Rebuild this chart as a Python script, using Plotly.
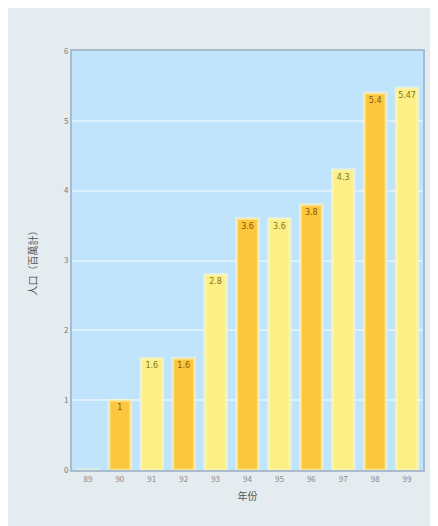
import plotly.graph_objects as go

years = ["89", "90", "91", "92", "93", "94", "95", "96", "97", "98", "99"]
values = [0, 1.0, 1.6, 1.6, 2.8, 3.6, 3.6, 3.8, 4.3, 5.4, 5.47]
labels = ["", "1", "1.6", "1.6", "2.8", "3.6", "3.6", "3.8", "4.3", "5.4", "5.47"]
y_ticks = [0, 1, 2, 3, 4, 5, 6]

orange = "#fcc63e"
yellow = "#fdef86"
colors = [orange if i % 2 == 1 else yellow for i in range(len(years))]
text_colors = ["#8a5800" if i % 2 == 1 else "#7d7818" for i in range(len(years))]

# page body has an 8px margin; figure placed inside it
W, H = 422, 518
ml, mr, mt, mb = 64, 5, 43, 56

fig = go.Figure()
fig.add_trace(go.Bar(
    x=years, y=values,
    marker=dict(color=colors, line=dict(color="rgba(255,250,200,0.55)", width=3)),
    text=labels, textposition="inside", insidetextanchor="end", textangle=0,
    constraintext="none",
    textfont=dict(size=8, color=text_colors, family="DejaVu Sans"),
    cliponaxis=False,
))

fig.update_layout(
    width=W, height=H,
    margin=dict(l=ml, r=mr, t=mt, b=mb),
    paper_bgcolor="#e4ecf0",
    plot_bgcolor="#bfe4fb",
    bargap=0.32,
    showlegend=False,
    font=dict(family="Noto Sans CJK TC", color="#777777", size=8),
    xaxis=dict(
        title=dict(text="年份", font=dict(size=10, color="#555555"), standoff=10),
        showgrid=False, ticks="", tickfont=dict(size=8, color="#888888"),
        showline=True, linecolor="#aabccc", linewidth=2, mirror=True,
    ),
    yaxis=dict(
        title=dict(text="人口（百萬計）", font=dict(size=10, color="#555555"), standoff=24),
        range=[0, 6], tickvals=y_ticks, ticks="",
        showgrid=True, gridcolor="#dcf1fd", gridwidth=2,
        tickfont=dict(size=8, color="#777777"),
        showline=True, linecolor="#aabccc", linewidth=2, mirror=True,
        zeroline=False,
    ),
)

fig.write_html("out.html")
